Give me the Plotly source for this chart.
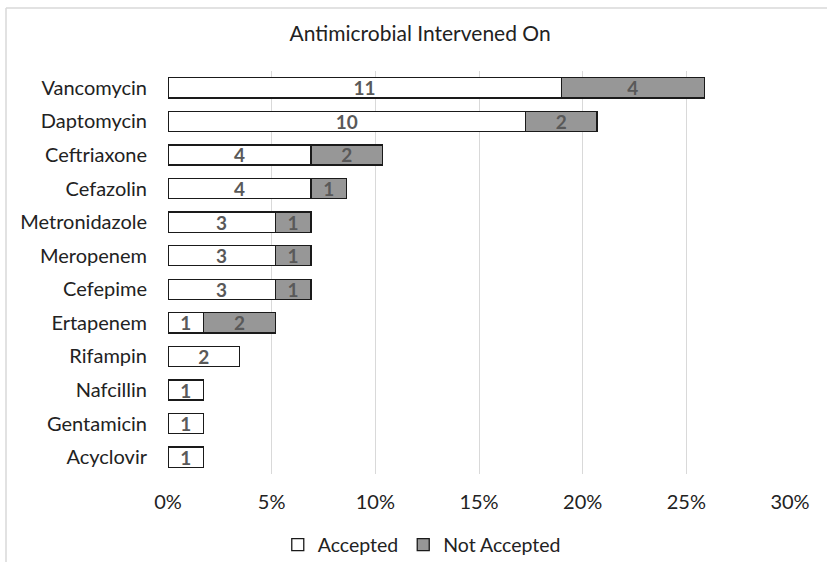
import plotly.graph_objects as go

drugs = ["Vancomycin", "Daptomycin", "Ceftriaxone", "Cefazolin", "Metronidazole",
         "Meropenem", "Cefepime", "Ertapenem", "Rifampin", "Nafcillin",
         "Gentamicin", "Acyclovir"]
accepted = [11, 10, 4, 4, 3, 3, 3, 1, 2, 1, 1, 1]
not_accepted = [4, 2, 2, 1, 1, 1, 1, 2, 0, 0, 0, 0]
x_ticks = [0, 0.05, 0.10, 0.15, 0.20, 0.25, 0.30]
x_tick_labels = ["0%", "5%", "10%", "15%", "20%", "25%", "30%"]

total = sum(accepted) + sum(not_accepted)
acc_pct = [a / total for a in accepted]
not_pct = [n / total for n in not_accepted]

FONT = "Lato"
LABEL = dict(family=FONT, size=19, color="#595959", weight="bold")
fig = go.Figure()
fig.add_trace(go.Bar(
    y=drugs, x=acc_pct, orientation="h", name="Accepted",
    marker=dict(color="white", line=dict(color="#1a1a1a", width=1.3)),
    text=[str(a) if a else "" for a in accepted],
    textposition="inside", insidetextanchor="middle", constraintext="none",
    textangle=0, textfont=LABEL, hoverinfo="skip",
))
fig.add_trace(go.Bar(
    y=drugs, x=not_pct, orientation="h", name="Not Accepted",
    marker=dict(color="#979797", line=dict(color="#1a1a1a", width=1.3)),
    text=[str(n) if n else "" for n in not_accepted],
    textposition="inside", insidetextanchor="middle", constraintext="none",
    textangle=0, textfont=LABEL, hoverinfo="skip",
))

fig.update_layout(
    width=827, height=562,
    barmode="stack", bargap=0.4,
    paper_bgcolor="white", plot_bgcolor="white",
    margin=dict(l=168, r=37, t=71, b=88, autoexpand=False),
    font=dict(family=FONT, size=20, color="#222222"),
    title=dict(text="Antimicrobial Intervened On", x=0.508, xanchor="center",
               y=0.94, yanchor="middle", font=dict(family=FONT, size=21, color="#222222")),
    legend=dict(orientation="h", xref="container", yref="container",
                x=0.51, xanchor="center", y=(562 - 545) / 562, yanchor="middle",
                font=dict(family=FONT, size=19.5, color="#222222"),
                traceorder="normal", itemwidth=30),
    xaxis=dict(range=[0, 0.30], tickvals=x_ticks, ticktext=x_tick_labels,
               showgrid=True, gridcolor="#d9d9d9", gridwidth=1,
               zeroline=False, showline=False, ticks="", automargin=False,
               ticklabelstandoff=14, tickfont=dict(family=FONT, size=20, color="#222222")),
    yaxis=dict(categoryorder="array", categoryarray=drugs, autorange="reversed",
               showgrid=False, zeroline=False, showline=False, ticks="", automargin=False,
               ticklabelstandoff=20, tickfont=dict(family=FONT, size=20, color="#222222")),
    shapes=[
        dict(type="line", xref="paper", yref="paper",
             x0=(6 - 168) / 622, x1=(6 - 168) / 622, y0=(562 - 8 - 88) / 403, y1=-1,
             line=dict(color="#d9d9d9", width=1.5)),
        dict(type="line", xref="paper", yref="paper",
             x0=(6 - 168) / 622, x1=2, y0=(562 - 8 - 88) / 403, y1=(562 - 8 - 88) / 403,
             line=dict(color="#d9d9d9", width=1.5)),
    ],
)

fig.write_html("out.html", config={"displayModeBar": False},
               post_script="document.body.style.margin='0';")
